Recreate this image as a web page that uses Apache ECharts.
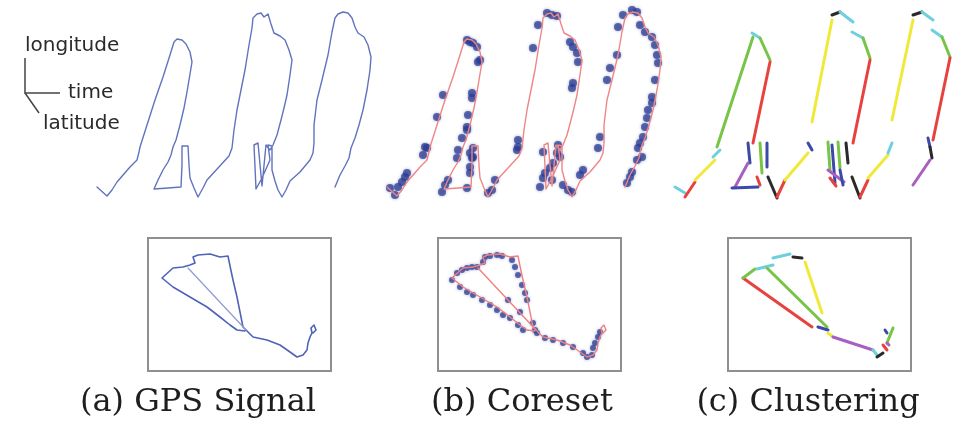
<!DOCTYPE html>
<html><head><meta charset="utf-8">
<script src="https://cdn.jsdelivr.net/npm/echarts@6/dist/echarts.min.js"></script>
<style>html,body{margin:0;padding:0;background:#fff}#c{width:963px;height:423px}</style>
</head><body><div id="c"></div><script>
// GPS trajectory (longitude/time plane, panel units)
const trajectory = [[97,187],[107,196],[112,190],[117,182],[130,167],[137,160],[139,152],[140,147],[147,125],[155,100],[163,77],[170,55],[174,42],[177,39],[182,40],[186,44],[190,52],[192,62],[190,74],[187,92],[184,108],[180,125],[176,140],[173,147],[171,155],[168,162],[163,170],[158,180],[154,189],[168,188],[181,187],[182,165],[182,146],[188,146],[189,165],[190,178],[194,188],[198,197],[203,188],[207,180],[218,168],[229,156],[232,148],[234,130],[237,110],[241,90],[245,70],[249,45],[252,28],[253,18],[257,14],[261,13],[264,17],[268,14],[271,24],[274,33],[280,36],[285,40],[289,50],[292,60],[290,75],[287,95],[284,108],[281,120],[277,135],[273,145],[270,150],[266,145],[262,186],[258,143],[254,145],[256,189],[262,178],[270,160],[268,145],[272,146],[272,170],[275,181],[278,190],[282,197],[286,190],[290,181],[300,172],[310,160],[313,153],[314,143],[314,125],[317,100],[322,80],[328,55],[332,32],[335,18],[338,14],[343,12],[348,13],[352,18],[355,27],[358,33],[364,37],[368,45],[371,57],[370,70],[367,90],[363,110],[359,125],[355,138],[351,148],[349,158],[345,166],[340,175],[335,187]];
// coreset points
const coresetDots = [[100,188],[105,195],[108,187],[112,182],[115,177],[117,173],[133,155],[137,148],[135,147],[147,117],[153,95],[177,40],[180,42],[183,43],[187,47],[188,62],[190,60],[182,93],[182,98],[178,115],[177,127],[177,130],[172,138],[168,150],[167,158],[158,180],[155,185],[152,192],[177,188],[180,153],[182,158],[180,167],[183,157],[180,173],[183,148],[198,193],[202,190],[205,180],[228,140],[228,147],[227,150],[243,48],[248,25],[257,13],[262,15],[267,16],[280,42],[283,47],[287,53],[288,62],[283,83],[282,88],[268,145],[267,153],[270,157],[263,163],[260,168],[255,173],[253,178],[262,180],[250,187],[253,152],[273,185],[278,190],[282,192],[293,170],[290,175],[310,137],[308,148],[317,80],[320,68],[327,55],[328,27],[333,15],[342,10],[347,12],[350,25],[355,32],[362,37],[365,45],[367,55],[368,63],[365,80],[362,97],[362,103],[358,110],[357,118],[355,127],[353,137],[350,143],[348,148],[352,157],[347,160],[342,172],[340,177],[337,183]];
// k-segment clustering: [x1,y1,x2,y2,cluster]
const clusterSegments = [[97,187,107,193,'c'],[107,197,117,182,'r'],[117,180,137,160,'y'],[135,157,142,150,'c'],[139,147,175,37,'g'],[174,33,182,38,'c'],[182,38,192,60,'g'],[192,62,175,143,'r'],[170,143,172,163,'b'],[170,163,157,187,'p'],[154,188,180,187,'b'],[182,143,184,173,'g'],[189,143,189,167,'b'],[179,177,182,185,'r'],[190,177,199,198,'k'],[199,197,207,180,'r'],[207,180,230,153,'y'],[230,143,234,150,'b'],[234,122,254,20,'y'],[254,15,262,12,'k'],[262,12,275,22,'c'],[274,32,285,38,'c'],[285,38,292,58,'g'],[292,60,275,143,'r'],[250,142,252,170,'g'],[260,142,262,168,'g'],[268,143,270,163,'k'],[254,145,257,183,'b'],[250,170,266,182,'p'],[252,178,258,186,'r'],[262,170,265,185,'b'],[274,177,282,198,'k'],[282,197,290,180,'r'],[290,178,310,155,'y'],[310,153,314,143,'c'],[314,120,335,20,'y'],[335,15,344,12,'k'],[344,12,355,20,'c'],[354,30,364,37,'c'],[364,37,372,57,'g'],[372,58,355,140,'r'],[350,138,352,147,'b'],[352,147,354,158,'k'],[352,160,335,185,'p']];
// inset (latitude / longitude view)
const insetTrajectory = [[313,333],[316,330],[314,325],[311,328],[312,333],[310,337],[308,343],[307,350],[303,355],[297,357],[290,352],[280,345],[267,340],[253,337],[247,331],[243,327],[240,312],[237,297],[233,280],[230,266],[228,256],[220,257],[210,254],[198,255],[193,257],[195,263],[190,265],[183,267],[173,268],[162,278],[173,287],[190,297],[207,307],[220,317],[230,325],[237,330],[245,331]];
const insetInner = [[246,330],[188,268]];
const insetCoresetDots = [[162,280],[167,273],[172,270],[177,268],[182,267],[187,267],[193,262],[195,257],[200,256],[207,255],[212,256],[222,260],[225,267],[228,275],[232,285],[235,293],[237,300],[218,300],[230,312],[243,323],[245,330],[247,333],[170,287],[177,292],[183,295],[192,300],[200,305],[207,310],[213,315],[220,318],[228,325],[233,330],[255,338],[263,340],[273,343],[283,347],[293,353],[297,357],[302,355],[303,348],[305,343],[308,337],[310,332]];
const insetClusterSegments = [[163,278,232,327,'r'],[163,278,175,269,'g'],[177,269,193,265,'c'],[193,258,210,254,'c'],[213,257,222,258,'k'],[225,262,242,313,'y'],[187,268,247,327,'g'],[238,327,248,330,'b'],[248,333,253,337,'y'],[253,337,293,350,'p'],[293,350,297,355,'c'],[297,357,303,353,'k'],[303,345,307,350,'r'],[307,343,313,328,'g'],[305,330,307,333,'b'],[307,343,309,345,'p']];
const captions = ['(a) GPS Signal', '(b) Coreset', '(c) Clustering'];
const axisNames = ['longitude', 'time', 'latitude'];

const clusterColors = {r:'#e8423f', g:'#77c447', y:'#efe93a', c:'#6dd0de', b:'#3b4aa8', k:'#2a2a2a', p:'#a85fc0'};
const topLefts = [90, 380, 668], insetLefts = [148, 438, 728];
const grid = [], xAxis = [], yAxis = [], series = [];
topLefts.forEach(l => { grid.push({left:l, top:0, width:290, height:210}); });
insetLefts.forEach(l => { grid.push({left:l, top:238, width:183, height:133, show:true, borderColor:'#8f8f8f', borderWidth:2, backgroundColor:'#fff'}); });
for (let i=0;i<6;i++){
  const top = i<3;
  xAxis.push({type:'value', gridIndex:i, min: top?90:148, max: top?380:331, show:false});
  yAxis.push({type:'value', gridIndex:i, min: top?0:238, max: top?210:371, inverse:true, show:false});
}
function line(data, gi, color, width, opacity){
  series.push({type:'line', xAxisIndex:gi, yAxisIndex:gi, data, symbol:'none', silent:true, animation:false,
    lineStyle:{color, width, opacity: opacity==null?1:opacity, cap:'round', join:'round'}});
}
function dots(data, gi, size){
  series.push({type:'scatter', xAxisIndex:gi, yAxisIndex:gi, data, symbolSize:size, silent:true, animation:false,
    itemStyle:{color:'#2b3c93', opacity:0.72, shadowBlur:3, shadowColor:'rgba(43,60,147,0.6)'}});
}
// (a)
line(trajectory, 0, '#6173bf', 1.4);
line(insetTrajectory, 3, '#4f63b8', 1.6);
line(insetInner, 3, '#8c9bd3', 1.2);
// (b)
line(trajectory, 1, '#ef8585', 1.4);
dots(coresetDots, 1, 8);
line(insetTrajectory, 4, '#ef8080', 1.4);
line(insetInner, 4, '#ef8080', 1.4);
dots(insetCoresetDots, 4, 6);
// (c)
clusterSegments.forEach(s => line([[s[0],s[1]],[s[2],s[3]]], 2, clusterColors[s[4]], 3));
insetClusterSegments.forEach(s => line([[s[0],s[1]],[s[2],s[3]]], 5, clusterColors[s[4]], 3));

const capCenters = [198, 522, 808];
const graphic = captions.map((t,i)=>({type:'text', x:capCenters[i], y:403,
  style:{text:t, fontFamily:'DejaVu Serif', fontSize:32, fill:'#1e1e1e', textAlign:'center', textVerticalAlign:'middle'}}));
const nameStyle = {fontFamily:'DejaVu Sans', fontSize:20, fill:'#2a2a2a', textVerticalAlign:'middle'};
graphic.push({type:'text', x:25, y:46, style:Object.assign({text:axisNames[0]}, nameStyle)});
graphic.push({type:'text', x:68, y:93, style:Object.assign({text:axisNames[1]}, nameStyle)});
graphic.push({type:'text', x:43, y:124, style:Object.assign({text:axisNames[2]}, nameStyle)});
graphic.push({type:'polyline', shape:{points:[[25,58],[25,93],[60,93]]}, style:{stroke:'#444', lineWidth:1.5, fill:null}});
graphic.push({type:'line', shape:{x1:25,y1:93,x2:39,y2:113}, style:{stroke:'#444', lineWidth:1.5}});

const chart = echarts.init(document.getElementById('c'));
chart.setOption({animation:false, grid, xAxis, yAxis, series, graphic});
</script></body></html>
